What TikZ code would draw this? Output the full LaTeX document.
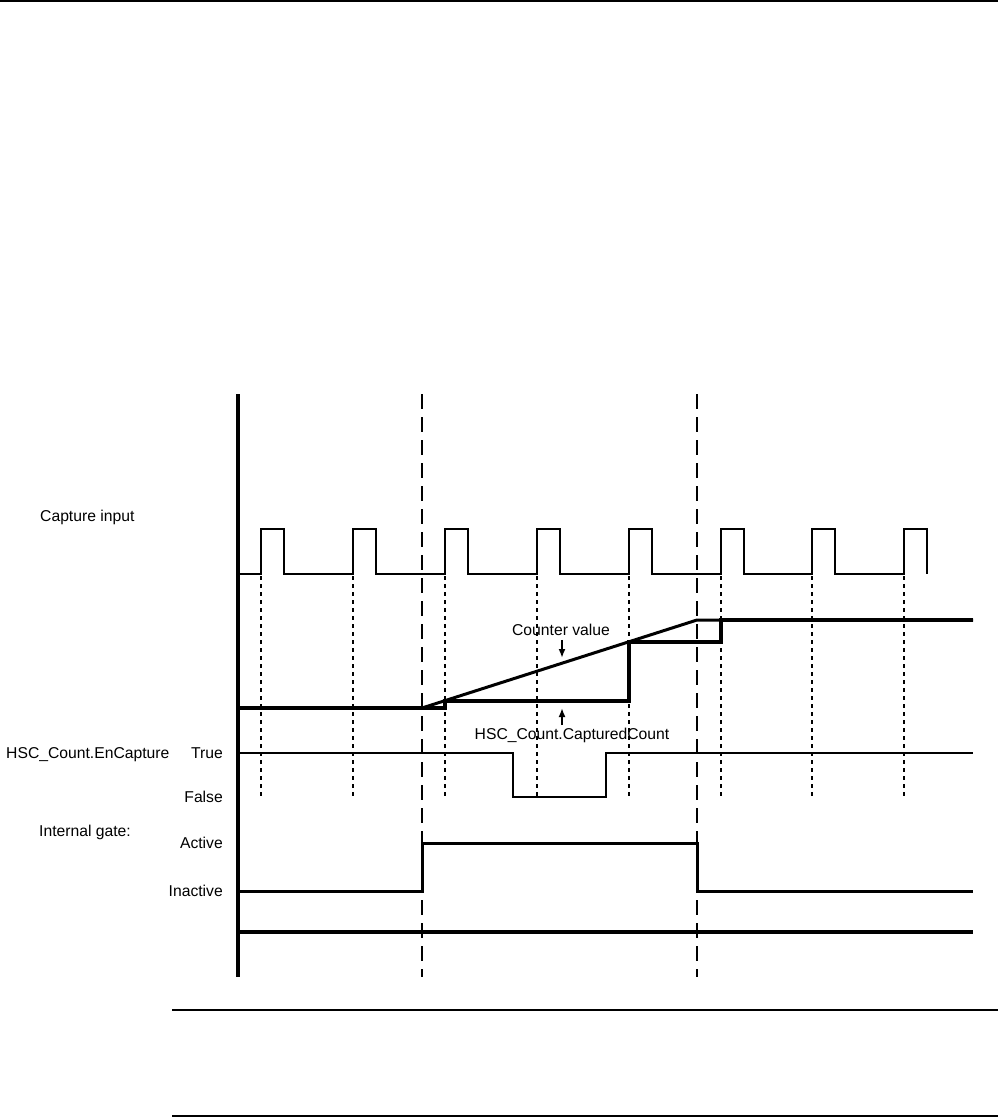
\documentclass[tikz,border=0pt]{standalone}
\usepackage{fontspec}
\setmainfont{Liberation Sans}
\usetikzlibrary{arrows.meta}
\tikzset{
  lbl/.style={inner sep=0pt, text height=11.2pt, text depth=0pt, font=\fontsize{15.7}{18}\selectfont},
  axisline/.style={line width=3.4pt},
  sig/.style={line width=2.4pt, line join=miter},
  cntline/.style={line width=3pt, line join=miter},
  capline/.style={line width=3.6pt, line join=miter},
  longdash/.style={line width=1.8pt, dash pattern=on 15pt off 8pt},
  shortdash/.style={line width=1.7pt, dash pattern=on 4pt off 4pt},
  rule/.style={line width=1.8pt},
  pointer/.style={line width=1.8pt, -{Latex[length=9pt,width=7pt]}}
}
\begin{document}
\begin{tikzpicture}[x=1pt,y=-1pt]
\useasboundingbox (0,0) rectangle (998,1118);
% page rules
\draw[rule] (0,1) -- (998,1);
\draw[rule] (172,1010) -- (998,1010);
\draw[rule] (172,1116) -- (998,1116);
% labels
\node[lbl, anchor=west] (lcap) at (40,516) {Capture input};
\node[lbl, anchor=west] (len) at (6,753) {HSC\_Count.EnCapture};
\node[lbl, anchor=east] (ltrue) at (223,753) {True};
\node[lbl, anchor=east] (lfalse) at (223,797) {False};
\node[lbl, anchor=west] (lgate) at (39,831) {Internal gate:};
\node[lbl, anchor=east] (lact) at (223,843) {Active};
\node[lbl, anchor=east] (linact) at (223,891) {Inactive};
% dotted capture lines
\foreach \r in {261,353,445,537,629,721,812,904}
  \draw[shortdash] (\r,576) -- (\r,797);
% long dashed gate boundaries
\draw[longdash] (422,394) -- (422,977);
\draw[longdash] (697,394) -- (697,977);
% axis
\draw[axisline] (238,394) -- (238,977);
% capture input
\draw[sig] (238,574)
  foreach \r in {261,353,445,537,629,721,812,904} { -- (\r,574) -- (\r,529) -- ({\r+23},529) -- ({\r+23},574) };
% counter value
\draw[cntline] (238,708) -- (422,708) -- (697,620) -- (973,620);
% captured count
\draw[capline] (238,708) -- (445,708) -- (445,701) -- (629,701) -- (629,642) -- (721,642) -- (721,620) -- (973,620);
% EnCapture
\draw[sig] (238,753) -- (513,753) -- (513,797) -- (606,797) -- (606,753) -- (973,753);
% internal gate
\draw[cntline] (238,891) -- (422,891) -- (422,843) -- (697,843) -- (697,891) -- (973,891);
\draw[axisline] (238,932) -- (973,932);
% annotations
\node[lbl] (lcv) at (561,630) {Counter value};
\coordinate (cvtip) at (562,658);
\draw[pointer] ([yshift=-4pt]lcv.south -| cvtip) -- (cvtip);
\node[lbl] (lcc) at (572,734) {HSC\_Count.CapturedCount};
\coordinate (cctip) at (562,708);
\draw[pointer] ([yshift=3pt]lcc.north -| cctip) -- (cctip);
\end{tikzpicture}
\end{document}
